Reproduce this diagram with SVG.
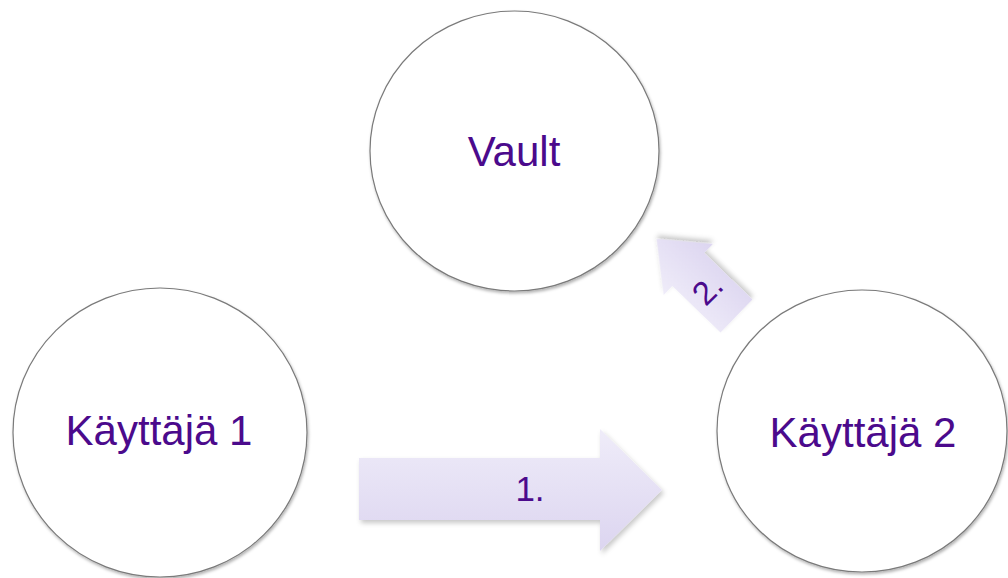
<svg xmlns="http://www.w3.org/2000/svg" width="1008" height="578" viewBox="0 0 1008 578">
  <defs>
    <style>
      .node { fill: #ffffff; stroke: #7a7a7a; stroke-width: 1.2; filter: url(#nodeShadow); }
      .label { font-family: "Liberation Sans", Arial, sans-serif; fill: #4b0a8c; text-anchor: middle; }
      .arrow { fill: url(#arrowFill); filter: url(#arrowShadow); }
    </style>
    <linearGradient id="arrowFill" x1="0" y1="0" x2="0" y2="1">
      <stop offset="0" stop-color="#efecf9"/>
      <stop offset="1" stop-color="#dcd5f0"/>
    </linearGradient>
    <filter id="nodeShadow" x="-10%" y="-10%" width="120%" height="125%">
      <feDropShadow dx="1" dy="2" stdDeviation="1.5" flood-color="#000" flood-opacity="0.3"/>
    </filter>
    <filter id="arrowShadow" x="-10%" y="-10%" width="125%" height="135%">
      <feDropShadow dx="2" dy="3" stdDeviation="2.5" flood-color="#000" flood-opacity="0.22"/>
    </filter>
  </defs>

  <rect width="1008" height="578" fill="#ffffff"/>

  <g id="connectors">
    <g id="arrow-1">
      <polygon class="arrow" points="359,458 600,458 600,429 662,490 600,551 600,520 359,520"/>
      <text class="label" x="530" y="501" font-size="35">1.</text>
    </g>
    <g id="arrow-2">
      <g transform="translate(736.5,316) rotate(-136)">
        <polygon class="arrow" points="0,-23 67,-23 67,-35.5 111,0 67,35.5 67,23 0,23"/>
      </g>
      <text class="label" font-size="33" transform="translate(707,289) rotate(-45)" y="12">2.</text>
    </g>
  </g>

  <g id="node-vault">
    <ellipse class="node" cx="514.5" cy="151" rx="144.5" ry="140"/>
    <text class="label" x="514" y="166" font-size="42">Vault</text>
  </g>

  <g id="node-user-1">
    <ellipse class="node" cx="160" cy="432.5" rx="147" ry="144.5"/>
    <text class="label" x="159" y="445" font-size="42">Käyttäjä 1</text>
  </g>

  <g id="node-user-2">
    <ellipse class="node" cx="862" cy="431" rx="145" ry="141"/>
    <text class="label" x="863" y="447" font-size="42">Käyttäjä 2</text>
  </g>
</svg>
